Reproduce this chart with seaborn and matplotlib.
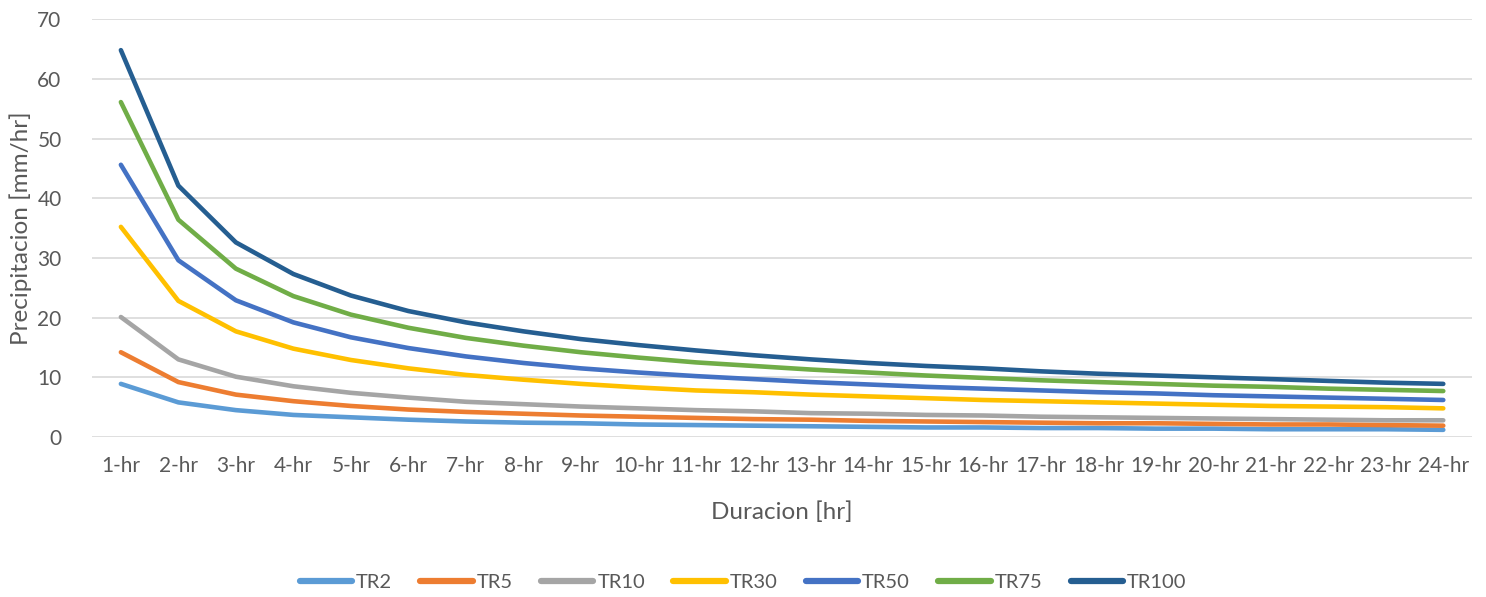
import numpy as np
import pandas as pd
import seaborn as sns
import matplotlib.pyplot as plt

# duration categories (hours)
durations = [f"{h}-hr" for h in range(1, 25)]

# intensities [mm/hr]
tr2 = [8.9, 5.8, 4.5, 3.7, 3.3, 2.9, 2.6, 2.4, 2.3, 2.1, 2.0, 1.9,
       1.8, 1.7, 1.6, 1.6, 1.5, 1.5, 1.4, 1.4, 1.3, 1.3, 1.3, 1.2]
tr5 = [14.2, 9.2, 7.1, 6.0, 5.2, 4.6, 4.2, 3.9, 3.6, 3.4, 3.2, 3.0,
       2.9, 2.7, 2.6, 2.5, 2.4, 2.3, 2.3, 2.2, 2.1, 2.1, 2.0, 1.9]
tr10 = [20.1, 13.0, 10.1, 8.5, 7.4, 6.6, 5.9, 5.5, 5.1, 4.8, 4.5, 4.3,
        4.0, 3.9, 3.7, 3.6, 3.4, 3.3, 3.2, 3.1, 3.0, 2.9, 2.8, 2.8]
tr30 = [35.2, 22.8, 17.7, 14.8, 12.9, 11.5, 10.4, 9.6, 8.9, 8.3, 7.8, 7.5,
        7.1, 6.8, 6.5, 6.2, 6.0, 5.8, 5.6, 5.4, 5.2, 5.1, 5.0, 4.8]
tr50 = [45.6, 29.6, 22.9, 19.2, 16.7, 14.9, 13.5, 12.4, 11.5, 10.8, 10.2, 9.7,
        9.2, 8.8, 8.4, 8.1, 7.8, 7.5, 7.3, 7.0, 6.8, 6.6, 6.4, 6.2]
tr75 = [56.1, 36.4, 28.2, 23.6, 20.5, 18.3, 16.6, 15.3, 14.2, 13.3, 12.5, 11.9,
        11.3, 10.8, 10.3, 9.9, 9.5, 9.2, 8.9, 8.6, 8.4, 8.1, 7.9, 7.7]
tr100 = [64.8, 42.1, 32.6, 27.3, 23.7, 21.1, 19.2, 17.7, 16.4, 15.4, 14.5, 13.7,
         13.0, 12.4, 11.9, 11.5, 11.0, 10.6, 10.3, 10.0, 9.7, 9.4, 9.1, 8.9]

series_names = ["TR2", "TR5", "TR10", "TR30", "TR50", "TR75", "TR100"]
series_vals = [tr2, tr5, tr10, tr30, tr50, tr75, tr100]
colors = ["#5B9BD5", "#ED7D31", "#A5A5A5", "#FFC000", "#4472C4", "#70AD47", "#255E91"]

rows = []
for name, vals in zip(series_names, series_vals):
    for i, v in enumerate(vals):
        rows.append({"idx": i, "serie": name, "val": v})
df = pd.DataFrame(rows)

sns.set_style("white")
plt.rcParams["font.family"] = ["Lato", "DejaVu Sans"]

fig = plt.figure(figsize=(14.86, 5.97), dpi=100)
ax = fig.add_axes([0.062, 0.268, 0.9286, 0.700])

sns.lineplot(data=df, x="idx", y="val", hue="serie", hue_order=series_names,
             palette=colors, linewidth=3.3, ax=ax, legend=False,
             solid_capstyle="round")

ax.set_xlim(-0.5, 23.5)
ax.set_ylim(0, 70)
ax.set_yticks(range(0, 71, 10))
ax.set_xticks(range(24))
ax.set_xticklabels(durations)
ax.yaxis.grid(True, color="#D9D9D9", linewidth=1.2)
ax.set_axisbelow(True)
for s in ax.spines.values():
    s.set_visible(False)
ax.tick_params(axis="both", length=0, labelsize=15, colors="#595959")
ax.tick_params(axis="y", pad=22)
ax.tick_params(axis="x", pad=14)
ax.set_xlabel("Duracion [hr]", fontsize=17.5, color="#595959", labelpad=18)
ax.set_ylabel("Precipitacion [mm/hr]", fontsize=17.5, color="#595959", labelpad=4)

handles = [plt.Line2D([0], [0], color=c, lw=4.5, solid_capstyle="round") for c in colors]
fig.legend(handles, series_names, loc="lower center", ncol=7, frameon=False,
           fontsize=14.5, handlelength=2.6, columnspacing=1.4, handletextpad=0.2,
           labelcolor="#595959", bbox_to_anchor=(0.5, -0.02))

fig.savefig("out.png", dpi=100)
